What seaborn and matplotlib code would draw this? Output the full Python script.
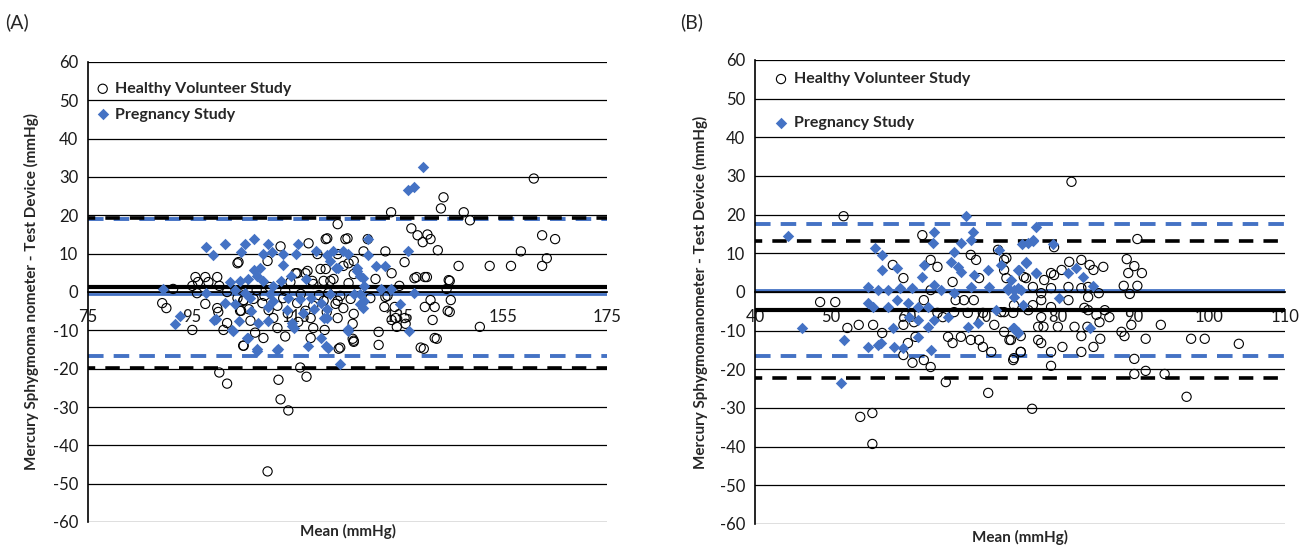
import numpy as np
import pandas as pd
import seaborn as sns
import matplotlib.pyplot as plt

# ---- panel A: systolic ----
a_hv_x = [104, 95.7, 97.6, 99.9, 96.2, 98.2, 95.1, 100.3, 91.4, 96, 101.8, 105, 105, 97.6, 99.9, 100.1,
          104.5, 89.3, 90.1, 95.1, 101.1, 101.8, 105, 100.3, 101.8,
          123.1, 121.1, 125, 117.5, 112.1, 119.2, 123.1, 128.9, 103.8, 109.6, 117.3, 115, 119.8, 125.2, 126.2,
          103.8, 104.9, 106.9, 108.6, 104.3, 111.5, 112.6, 115.3, 118.4, 116.9, 120.4, 123.1, 124.2, 121.7,
          118.4, 117.9, 110.7, 106.3, 111.5, 118.4, 108.8, 104.9, 117.9, 126, 123.3, 115.9,
          117.1, 111.7, 112.1, 113.6, 109.6,
          133.4, 147.4, 148.6, 143.5, 143, 160.9, 162.5, 165, 163.4, 162.5, 158.4, 156.5, 152.4, 146.4, 150.5,
          137.3, 138.5, 140.4, 141, 142.4, 139.5, 144.5, 144.9, 144.3, 141.8, 141, 139.9, 141.4, 141.8, 139.9,
          137.9, 136, 135, 133.5, 132.3, 132.3, 132.1, 134.3, 134.5, 136.2, 136, 133.5, 131, 131, 126.2, 134.1,
          120.8, 124.6, 128.1, 126.2, 124.2, 120.8, 130.4, 122.3, 125.2, 121.3, 123.6, 125.6, 129.4, 132.7,
          122.7, 126.2, 123.1, 126, 126.2, 123.6, 139.1,
          139.7, 142.2, 144.7, 144.1, 144.7, 138.3, 140.3,
          115.3, 116.9, 118.2, 120.4, 107.5, 110, 113, 116, 109, 114, 119.5, 106, 113.5, 109.8, 115.5, 120.6,
          113, 107.2, 121]
a_hv_y = [7.8, 3.9, 3.9, 3.9, 2.6, 2.6, 1.6, 1.6, 0.8, -0.3, 0, 1.6, -2.1, -3.1, -4.2, -5.2,
          -4.9, -2.9, -4.2, -9.9, -9.9, -8.1, -14, -21, -23.9,
          17.7, 14, 14, 12.7, 11.9, 9.9, 9.9, 13.8, 7.5, 8.1, 5.5, 4.9, 6, 7.5, 4.7,
          -1.6, -2.3, -1.8, -2.9, -4.9, -3.6, -1.6, -2.9, -3.6, -4.9, -2.3, -2.3, -4.2, 2.9,
          2.1, -6.8, -6.8, -7.5, -9.4, -9.4, -12, -14, -12, -12.2, -14.8, -19.7,
          -22.1, -22.9, -28, -30.9, -46.8,
          20.8, 20.8, 18.7, 24.7, 21.8, 29.6, 14.8, 13.8, 8.8, 6.8, 10.6, 6.8, 6.8, 6.8, -9.1,
          16.6, 14.8, 15, 13.8, 10.9, 13, 3.1, -2.1, -4.9, -3.9, -2.1, -3.9, -7.3, -12, 3.9,
          3.6, 7.8, 1.6, 4.9, 10.6, -1.3, -3.9, -6.8, -9.1, -8.3, -6.8, -7.3, -10.4, -13.8, -13, -3.9,
          13.8, 13.8, 10.6, 8.1, 6.8, 6, 3.4, 3.4, 2.3, -0.3, -1, -1.8, -1.6, -1,
          -3.1, -5.7, -6.8, -8.3, -12.7, -14.5, -14.5,
          -14.8, -12.2, -5.2, 0.8, 2.9, 3.9, 3.9,
          4.9, 4.9, 2.9, 2.9, 0.5, 1.3, 0.3, -0.5, -1, 2.6, -0.8, -4.5, -5.6, -4.7, -7.8, -9.9,
          -11.6, -10.6, -5.2]

a_pr_x = [97.8, 101.4, 99, 104.5, 89.5, 102.4, 97.8, 103.4, 101.4, 103.4, 99.3, 103, 92.8, 91.8, 105.7,
          106.9, 105.3, 109.6, 108.8, 112.6, 115, 115.5, 112.5, 110.5, 106.9, 107.6, 108.2, 108.8, 104.3,
          105.9, 110.7, 112.1, 105.3, 106.3, 110.1, 110.7, 113.6, 115.9, 117.9, 120.4, 121.1, 119.8, 121.7,
          123.1, 121.7, 125, 126.9, 127.9, 127.5, 128.1, 107.8, 109.6, 114.4, 114.6, 105.9, 107.6, 111.7,
          117.3, 119.8, 121.3, 125, 123.6,
          139.5, 136.6, 137.9, 129, 136.6, 122.3, 121.1, 124.2, 129, 130.4, 132.3, 122.7, 126.9, 127.5,
          131.4, 133.3, 137.9, 128.1, 126.2, 127.5, 127.9, 121.1, 135.2, 136.8, 125, 120.8,
          117, 118.6, 116.4, 114.2, 119, 113.3, 106.5, 104, 107.6, 111.5, 99.7, 102.8, 109.7, 114.4]
a_pr_y = [11.7, 12.5, 9.6, 10.4, 0.8, 2.6, -0.3, 0.5, -2.9, -3.1, -7.3, -10.1, -6.2, -8.3, -12,
          13.8, 12.5, 12.5, 9.9, 9.9, 9.9, 12.5, 7, 10.4, 5.7, 4.2, 6.2, 2.9, 2.9,
          3.4, 1.6, 2.9, -0.3, -1.6, -0.5, -2.3, -1.6, -1.8, -1.6, -6.8, -4.4, -2.9, -0.5,
          6.2, 8.1, 9.9, 6.2, 3.6, -0.5, -2.3, -8.1, -7.5, -8.1, -9.4, -12, -14.8, -14.8,
          -14, -12, -14.5, -9.6, -18.7,
          32.7, 26.5, 27.5, 13.8, 10.6, 10.6, 9.6, 10.6, 9.6, 6.8, 6.8, 6.2, 5.5, 4.2,
          0.8, 0.8, -0.3, 1.6, -0.5, -3.1, -4.2, -6.8, -3.1, -10.1, -10.1, -14,
          3.5, -4.4, -5.5, 4.2, 10.8, -4.6, -5, -7.5, -15.3, -15.1, -7, -9.9, -3.9, -8.8]

# mean and limits of agreement, panel A
a_hv_lines = [1.2, 19.2, -19.7]
a_pr_lines = [-0.5, 19.0, -16.8]
a_xticks = [75, 95, 115, 135, 155, 175]

# ---- panel B: diastolic ----
b_hv_x = [48.6, 50.6, 51.7, 52.2, 53.7, 53.9, 55.5, 55.5, 55.6, 56.8,
          62.1, 63.2, 64.1, 59.6, 58.2, 66.1, 68.5, 69.2, 69.6, 67.6, 68.9, 66.5, 63.2, 62.3, 64.1, 64.8,
          66.3, 68.1, 70.1, 71.6, 72.5, 74.2, 73.2, 75.5, 73.2, 72.1, 59.6, 61, 61.2, 60.2, 59.6, 60.8,
          62.3, 63.2, 65.5, 66.1, 67.2, 68.5, 69.6, 70.1, 71.2, 73.6, 75.1, 74.1, 65.2, 70.8, 76.1, 77.4, 77.4,
          90.5, 89.1, 90.1, 91.1, 89.3, 88.7, 90.5, 89.5, 89.7, 88.8, 88.4, 91.6, 93.6, 97.6, 99.4, 103.9,
          90.1, 90.1, 91.6, 94.1, 97, 76.6, 79.1, 83.1, 84.7, 85.6, 83.1, 80.6, 77.8, 78.1, 82.2, 83.9, 80,
          85.5, 85.1, 86.2, 86.8, 84, 75.1, 74.2, 75.1, 79.1, 73.8, 72.9, 72.9, 74.1, 76.7, 77.8, 79.1, 81.4,
          83.5, 81.4, 83.1, 79.1, 77.8, 76.7, 75.8, 78.2, 79.5, 80.5, 79.1, 81.5, 83.1, 84.2, 84.7, 86,
          72.9, 72.9, 79.5, 84, 84, 85.4, 77.8, 81.8]
b_hv_y = [-2.6, -2.6, 19.6, -9.3, -8.5, -32.3, -31.3, -39.3, -8.5, -10.6,
          14.7, 8.3, 6.5, 3.6, 7, 2.6, 9.6, 8.3, 3.6, -2.1, -2.1, -2.1, 0.5, -2.1, -5.4, -6.5,
          -5.2, -5.4, -5.4, -8.5, -5.2, -3.4, 3.6, 3.9, 8.8, 10.9, -8.5, -7.8, -11.6, -13.2, -16.3, -18.3,
          -17.6, -19.4, -11.6, -13.2, -11.6, -12.4, -12.4, -14.2, -15.5, -12.4, -15.5, -17.6, -23.3, -26.1,
          -4.7, -9, -12.4,
          13.7, 8.5, 6.7, 4.9, 4.9, 1.6, 1.6, -0.5, -8.5, -11.4, -10.3, -12.1, -8.5, -12.1, -12.1, -13.4,
          -17.3, -21.2, -20.4, -21.2, -27.1, -30.2, -19.1, -15.5, -14.2, -12.1, -11.4, -14.2, -13.2, -9,
          -9, -9, -9, -7.8, -5.9, -4.7, -6.5, -4.7, -11.4, -17.1, -15.5, -15.5, -12.4, -10.3, -5.2, -5.4,
          -3.4, -2.1, -3.9, -2.1, -4.1, 1.3, 1, 1, -0.3, 1.3, 3.6, 3.1, 4.4, 5.7, 4.9, 7.8, 8.3, 7, 5.7, 6.5,
          8.3, 5.7, 11.6, -1.3, 1.3, -0.3, -6.5, 28.5]

b_pr_x = [44.4, 67.9, 63.7, 68.8, 68.5, 67.2, 63.5, 55.9, 56.8, 56.8, 58.8, 66.3, 65.9, 66.8, 67.2, 62.3,
          62.1, 72.2, 72.5, 70.8, 68.9, 74.9, 75.8, 76.1, 76.7, 77.1, 54.9, 56.3, 57.5, 59.2, 60.8, 63.6,
          64.5, 66.3, 68.5, 70.9, 73.4, 74.2, 75.1, 54.9, 55.6, 57.6, 58.8, 60.2, 61.5, 62.8, 60.3, 61.5,
          62.8, 61.5, 63.6, 65.5, 68.1, 69.4, 71.8, 74.1, 74.7, 58.2, 58.3, 56.2, 56.6, 54.9, 59.6, 63.2,
          51.7, 46.2, 51.3,
          77.1, 75.3, 76.7, 79.3, 75.8, 74.7, 77.1, 73.8, 73.4, 74.7, 74.2, 75.4, 80.2, 82.4, 83.3, 84.7,
          81.4, 84.2, 74.2, 74.7]
b_pr_y = [14.5, 19.6, 15.5, 15.5, 13.4, 12.7, 12.7, 11.4, 9.6, 5.7, 6.2, 10.3, 7.8, 6.5, 5.2, 7,
          3.9, 10.9, 7, 5.7, 4.4, 5.7, 7.8, 12.7, 13.4, 4.9, 1.3, 0.5, 0.5, 1, 1, 1.8,
          0.5, -0.3, 1.3, 1.3, 1, 0.5, 0.5, -2.8, -3.9, -3.9, -2.1, -2.8, -3.9, -3.9, -6.5, -7.2,
          -9, -11.6, -7.2, -6.5, -9, -8, -4.7, -9.3, -10.3, -9.3, -14.2, -13.7, -13.2, -14.2, -14.5, -15,
          -12.4, -9.3, -23.5,
          16.8, 12.4, 13.2, 12.4, 7.5, 5.7, 4.9, 3.1, 0.5, 1, -1.3, -3.4, -1.6, 6.2, 3.9, 1.6,
          4.9, -9.3, -9.3, -10.6]

b_hv_lines = [-4.6, 13.3, -22.3]
b_pr_lines = [0.4, 17.6, -16.5]
b_xticks = [40, 50, 60, 70, 80, 90, 100, 110]

HV = "Healthy Volunteer Study"
PR = "Pregnancy Study"
BLUE = "#4472C4"

sns.set_theme(style="white")
plt.rcParams['font.family'] = ['Lato', 'DejaVu Sans']
plt.rcParams['axes.unicode_minus'] = False


def make_df(hx, hy, px, py):
    hv = pd.DataFrame({"mean": hx, "diff": hy, "study": HV})
    pr = pd.DataFrame({"mean": px, "diff": py, "study": PR})
    return hv, pr


def draw_panel(ax, hv, pr, xticks, hv_lines, pr_lines, ylabel, ylab_x, leg_anchor, leg_spacing, xlab_y):
    ax.set_xlim(xticks[0], xticks[-1])
    ax.set_ylim(-60, 60)
    ax.set_yticks(range(-60, 61, 10))
    ax.set_xticks(xticks)
    for yv in range(-60, 61, 10):
        ax.axhline(yv, color="black", lw=0.9, zorder=1)

    # mean (solid) and limits of agreement (dashed)
    ax.axhline(hv_lines[0], color="black", lw=3.0, zorder=2)
    ax.axhline(pr_lines[0], color=BLUE, lw=2.0, zorder=2)
    for yv in pr_lines[1:]:
        ax.axhline(yv, color=BLUE, lw=2.8, ls=(0, (4, 2.6)), zorder=2)
    for yv in hv_lines[1:]:
        ax.axhline(yv, color="black", lw=2.6, ls=(2, (4, 2.8)), zorder=2)

    sns.scatterplot(data=hv, x="mean", y="diff", ax=ax, marker="o", s=44,
                    facecolors="none", edgecolor="black", linewidth=0.8, label=HV, zorder=3)
    sns.scatterplot(data=pr, x="mean", y="diff", ax=ax, marker="D", s=34,
                    color=BLUE, edgecolor=BLUE, linewidth=0, label=PR, zorder=3)

    for side in ["top", "right"]:
        ax.spines[side].set_visible(False)
    ax.spines["left"].set_color("black")
    ax.spines["left"].set_linewidth(1.2)
    ax.spines["bottom"].set_position(("data", 0))
    ax.spines["bottom"].set_color("black")
    ax.tick_params(axis="both", length=0, labelsize=12, colors="#1a1a1a")
    ax.tick_params(axis="x", pad=12)
    ax.tick_params(axis="y", pad=7)

    ax.set_ylabel(ylabel, fontsize=11, fontweight="bold")
    ax.yaxis.set_label_coords(ylab_x, 0.5)
    ax.set_xlabel("Mean (mmHg)", fontsize=11, fontweight="bold")
    ax.xaxis.set_label_coords(0.5, xlab_y)

    leg = ax.legend(loc="upper left", bbox_to_anchor=leg_anchor, frameon=False,
                    borderaxespad=0, borderpad=0, handlelength=0.8, handletextpad=0.4,
                    labelspacing=leg_spacing, prop={"weight": "bold", "size": 11.5})
    leg.set_zorder(5)


fig = plt.figure(figsize=(13.02, 5.47), dpi=100)
ax_a = fig.add_axes([88 / 1302, 25 / 547, 519 / 1302, 460 / 547])
ax_b = fig.add_axes([755 / 1302, 23 / 547, 530 / 1302, 464 / 547])

hv_a, pr_a = make_df(a_hv_x, a_hv_y, a_pr_x, a_pr_y)
hv_b, pr_b = make_df(b_hv_x, b_hv_y, b_pr_x, b_pr_y)

draw_panel(ax_a, hv_a, pr_a, a_xticks, a_hv_lines, a_pr_lines,
           "Mercury Sphygmoma nometer - Test Device (mmHg)", -0.094, (0.016, 0.957), 0.72, -0.005)
draw_panel(ax_b, hv_b, pr_b, b_xticks, b_hv_lines, b_pr_lines,
           "Mercury Sphygmomanometer - Test Device (mmHg)", -0.088, (0.037, 0.974), 1.85, -0.013)

fig.text(5 / 1302, 1 - 22 / 547, "(A)", fontsize=14, va="center")
fig.text(680 / 1302, 1 - 22 / 547, "(B)", fontsize=14, va="center")

plt.savefig("out.png", dpi=100)
